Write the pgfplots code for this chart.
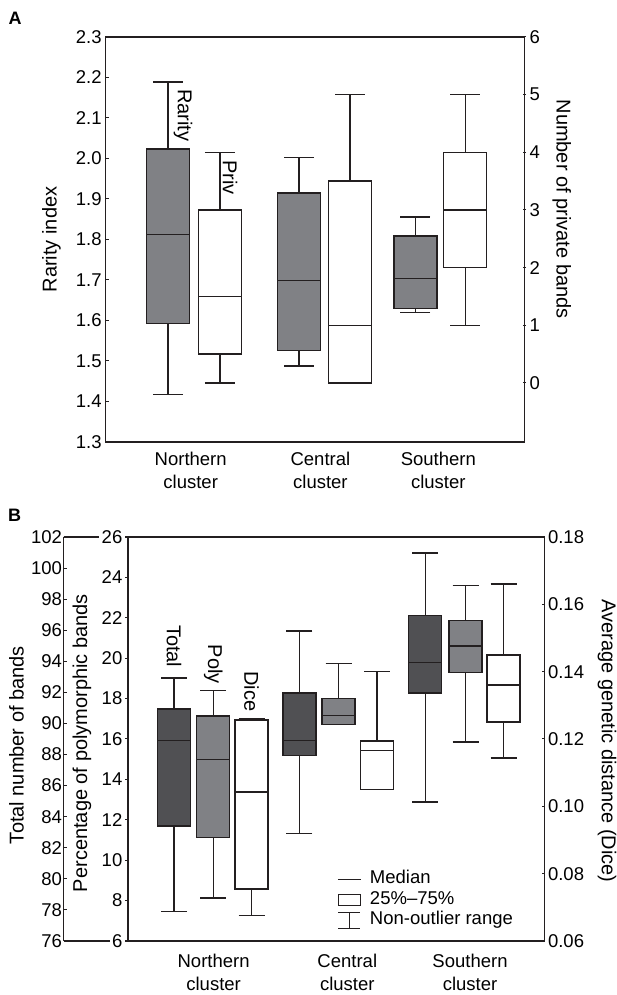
\documentclass[border=0pt]{standalone}
\usepackage{fontspec}
\setmainfont{Liberation Sans}
\usepackage{pgfplots}
\pgfplotsset{compat=1.18}
\usepgfplotslibrary{statistics}

\definecolor{darkbox}{RGB}{80,80,83}
\definecolor{midbox}{RGB}{128,129,133}
\definecolor{edge}{RGB}{35,31,32}

\newcommand{\tickfont}{\fontsize{18.5}{23}\selectfont}
\newcommand{\labfont}{\fontsize{20}{24}\selectfont}

% x positions are in units of 100 px of the reference image
\pgfplotsset{
  every axis/.append style={
    scale only axis, anchor=south west,
    axis line style={draw=edge, line width=1.2pt},
    tick style={draw=edge, line width=1pt},
    tick label style={font=\tickfont},
    label style={font=\labfont},
    /pgf/number format/assume math mode=true,
    boxplot/draw direction=y,
    boxplot/every box/.style={draw=edge, line width=1.4pt},
    boxplot/every median/.style={draw=edge, line width=1.4pt},
    boxplot/every whisker/.style={draw=edge, line width=1.4pt},
  },
  bx/.style={draw=edge, line width=1.4pt},
}

\begin{document}
\begin{tikzpicture}
\useasboundingbox (0pt,0pt) rectangle (617pt,995pt);

% ---------------- panel A ----------------
\node[font=\bfseries\fontsize{18}{20}\selectfont] at (15pt,977pt) {A};

\begin{axis}[at={(105.2pt,553pt)}, width=419.3pt, height=405pt,
  xmin=1.052, xmax=5.245, ymin=1.3, ymax=2.3,
  ytick={1.3,1.4,1.5,1.6,1.7,1.8,1.9,2.0,2.1,2.2,2.3},
  yticklabel style={/pgf/number format/.cd, fixed, fixed zerofill, precision=1},
  ytick pos=left, tick align=inside, major tick length=4pt,
  xtick={1.907,3.204,4.383},
  xticklabels={Northern\\cluster, Central\\cluster, Southern\\cluster},
  xticklabel style={align=center, yshift=-7pt},
  xtick style={draw=none},
  ylabel={Rarity index},
  ylabel style={at={(axis description cs:-0.128,0.5)}, anchor=center},
]
% rarity index
\addplot[bx, fill=midbox, boxplot prepared={draw position=1.681, lower whisker=1.418, lower quartile=1.592, median=1.813, upper quartile=2.023, upper whisker=2.189, box extend=0.43, whisker extend=0.30}] coordinates {};
\addplot[bx, fill=midbox, boxplot prepared={draw position=2.990, lower whisker=1.488, lower quartile=1.526, median=1.698, upper quartile=1.915, upper whisker=2.003, box extend=0.43, whisker extend=0.30}] coordinates {};
\addplot[bx, fill=midbox, boxplot prepared={draw position=4.153, lower whisker=1.619, lower quartile=1.630, median=1.703, upper quartile=1.809, upper whisker=1.856, box extend=0.43, whisker extend=0.30}] coordinates {};
\node[rotate=-90, font=\labfont] at (axis cs:1.83,2.107) {Rarity};
\node[rotate=-90, font=\labfont] at (axis cs:2.30,1.953) {Priv};
\end{axis}

\begin{axis}[at={(105.2pt,553pt)}, width=419.3pt, height=405pt,
  xmin=1.052, xmax=5.245, ymin=-1.0231, ymax=6,
  ytick={0,1,2,3,4,5,6}, ytick pos=right, yticklabel pos=right,
  tick align=center, major tick length=3pt,
  xtick=\empty,
  ylabel={Number of private bands},
  ylabel style={at={(axis description cs:1.0887,0.575)}, anchor=center, rotate=180},
]
% private bands
\addplot[bx, fill=white, boxplot prepared={draw position=2.199, lower whisker=0, lower quartile=0.5, median=1.5, upper quartile=3, upper whisker=4, box extend=0.43, whisker extend=0.30}] coordinates {};
\addplot[bx, fill=white, boxplot prepared={draw position=3.500, lower whisker=0, lower quartile=0, median=1, upper quartile=3.5, upper whisker=5, box extend=0.43, whisker extend=0.30}] coordinates {};
\addplot[bx, fill=white, boxplot prepared={draw position=4.652, lower whisker=1, lower quartile=2, median=3, upper quartile=4, upper whisker=5, box extend=0.43, whisker extend=0.30}] coordinates {};
\end{axis}

% ---------------- panel B ----------------
\node[font=\bfseries\fontsize{18}{20}\selectfont] at (14.6pt,480pt) {B};

% total number of bands (outer axis)
\begin{axis}[at={(63.7pt,54pt)}, width=480.8pt, height=404pt,
  xmin=0.637, xmax=5.445, ymin=76, ymax=102,
  axis y line*=left, axis x line*=box,
  ytick={76,78,...,102}, xtick=\empty,
  tick align=inside, major tick length=3pt,
  yticklabel style={inner sep=1.5pt},
  ylabel={Total number of bands},
  ylabel style={at={(axis description cs:-0.0982,0.485)}, anchor=center},
]
\addplot[bx, fill=darkbox, boxplot prepared={draw position=1.741, lower whisker=77.9, lower quartile=83.4, median=88.92, upper quartile=90.93, upper whisker=92.93, box extend=0.33, whisker extend=0.26}] coordinates {};
\addplot[bx, fill=darkbox, boxplot prepared={draw position=2.994, lower whisker=82.91, lower quartile=87.93, median=88.92, upper quartile=91.96, upper whisker=95.95, box extend=0.33, whisker extend=0.26}] coordinates {};
\addplot[bx, fill=darkbox, boxplot prepared={draw position=4.252, lower whisker=84.95, lower quartile=91.96, median=93.94, upper quartile=96.94, upper whisker=100.97, box extend=0.33, whisker extend=0.26}] coordinates {};
\end{axis}

% percentage of polymorphic bands
\begin{axis}[at={(128pt,54pt)}, width=416.5pt, height=404pt,
  xmin=1.28, xmax=5.445, ymin=6, ymax=26,
  ytick={6,8,...,26}, ytick pos=left,
  tick align=outside, major tick length=3pt,
  yticklabel style={fill=white, inner sep=2.5pt},
  xtick={2.136,3.473,4.700},
  xticklabels={Northern\\cluster, Central\\cluster, Southern\\cluster},
  xticklabel style={align=center, yshift=-7pt},
  xtick style={draw=none},
  ylabel={Percentage of polymorphic bands},
  ylabel style={at={(axis description cs:-0.1104,0.49)}, anchor=center},
]
\addplot[bx, fill=midbox, boxplot prepared={draw position=2.132, lower whisker=8.13, lower quartile=11.12, median=14.98, upper quartile=17.14, upper whisker=18.41, box extend=0.33, whisker extend=0.26}] coordinates {};
\addplot[bx, fill=midbox, boxplot prepared={draw position=3.386, lower whisker=16.73, lower quartile=16.73, median=17.16, upper quartile=18.01, upper whisker=19.75, box extend=0.33, whisker extend=0.26}] coordinates {};
\addplot[bx, fill=midbox, boxplot prepared={draw position=4.656, lower whisker=15.85, lower quartile=19.29, median=20.60, upper quartile=21.86, upper whisker=23.59, box extend=0.33, whisker extend=0.26}] coordinates {};
\node[rotate=-90, font=\labfont] at (axis cs:1.741,20.59) {Total};
\node[rotate=-90, font=\labfont] at (axis cs:2.132,19.70) {Poly};
\node[rotate=-90, font=\labfont] at (axis cs:2.516,18.36) {Dice};
\end{axis}

% average genetic distance (Dice), values given in hundredths
\begin{axis}[at={(128pt,54pt)}, width=416.5pt, height=404pt,
  xmin=1.28, xmax=5.445, ymin=6, ymax=18,
  ytick={6,8,10,12,14,16,18},
  yticklabels={0.06,0.08,0.10,0.12,0.14,0.16,0.18},
  ytick pos=right, yticklabel pos=right,
  tick align=inside, major tick length=3pt,
  xtick=\empty,
  ylabel={Average genetic distance (Dice)},
  ylabel style={at={(axis description cs:1.150,0.495)}, anchor=center, rotate=180},
  legend style={at={(axis description cs:0.502,0.025)}, anchor=south west,
    draw=none, fill=none, inner sep=0pt, row sep=0pt, font=\tickfont,
    nodes={inner sep=1.5pt, text height=13pt, text depth=4.5pt},
    /tikz/every odd column/.append style={column sep=7pt}},
  legend cell align=left,
]
\addlegendimage{legend image code/.code={\draw[edge, line width=1.2pt] (0pt,0pt) -- (23pt,0pt);}}
\addlegendentry{Median}
\addlegendimage{legend image code/.code={\draw[edge, line width=1.2pt] (0.5pt,-5.3pt) rectangle (22.5pt,5.3pt);}}
\addlegendentry{25\%--75\%}
\addlegendimage{legend image code/.code={\draw[edge, line width=1.2pt] (0.5pt,-8pt) -- (22.5pt,-8pt) (11.5pt,-8pt) -- (11.5pt,8pt) (0.5pt,8pt) -- (22.5pt,8pt);}}
\addlegendentry{Non-outlier range}
\addplot[bx, fill=white, boxplot prepared={draw position=2.516, lower whisker=6.76, lower quartile=7.55, median=10.42, upper quartile=12.56, upper whisker=12.61, box extend=0.33, whisker extend=0.26}] coordinates {};
\addplot[bx, fill=white, boxplot prepared={draw position=3.770, lower whisker=10.50, lower quartile=10.50, median=11.66, upper quartile=11.94, upper whisker=14.00, box extend=0.33, whisker extend=0.26}] coordinates {};
\addplot[bx, fill=white, boxplot prepared={draw position=5.036, lower whisker=11.43, lower quartile=12.50, median=13.60, upper quartile=14.49, upper whisker=16.60, box extend=0.33, whisker extend=0.26}] coordinates {};
\end{axis}
\end{tikzpicture}
\end{document}
